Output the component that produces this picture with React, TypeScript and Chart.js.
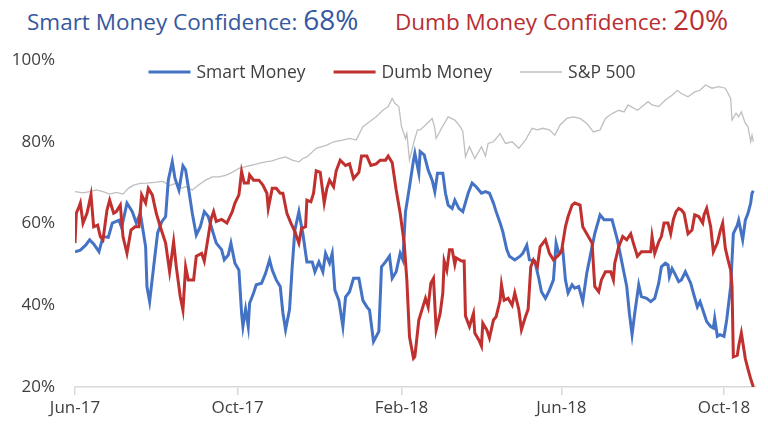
import React, { useEffect, useRef } from "react";
import { Chart, registerables } from "chart.js";

Chart.register(...registerables);

// ---- Data (x = days since 1 Jun 2017) ----
const startDate = "2017-06-01";
const tickDates = ["2017-06-01", "2017-10-01", "2018-02-01", "2018-06-01", "2018-10-01"];
const tickLabels = ["Jun-17", "Oct-17", "Feb-18", "Jun-18", "Oct-18"];
const yTickValues = [20, 40, 60, 80, 100];
const xMaxDays = 511;

const smartDays = [0, 4, 8, 11, 14, 18, 21, 25, 28, 33, 35, 39, 43, 46, 49, 53, 54, 56, 59, 62, 65, 68, 70, 73, 75, 78, 81, 83, 85, 88, 91, 94, 97, 100, 103, 106, 110, 112, 115, 117, 120, 123, 125, 126, 128, 130, 131, 134, 136, 140, 143, 146, 148, 151, 154, 156, 158, 161, 163, 165, 168, 170, 171, 174, 178, 180, 183, 186, 188, 191, 193, 195, 198, 201, 203, 206, 209, 213, 216, 219, 221, 224, 228, 230, 233, 236, 238, 241, 244, 246, 248, 251, 254, 255, 258, 259, 262, 265, 268, 270, 272, 276, 278, 280, 283, 285, 288, 291, 295, 298, 301, 305, 308, 311, 314, 316, 319, 321, 324, 326, 330, 334, 336, 339, 341, 345, 348, 350, 353, 356, 359, 361, 363, 366, 368, 370, 373, 375, 378, 381, 384, 387, 390, 394, 397, 403, 407, 410, 414, 416, 418, 420, 423, 425, 429, 432, 435, 438, 440, 443, 445, 446, 448, 450, 453, 455, 458, 462, 464, 467, 469, 472, 474, 477, 479, 480, 482, 484, 487, 489, 492, 494, 497, 498, 501, 503, 505, 507, 508, 509];
const smartValues = [53.1, 53.5, 54.7, 56, 55, 53.1, 56.8, 56.6, 60.1, 60.8, 59, 65, 62.9, 60.1, 62.5, 54.3, 44.5, 40.9, 49.4, 57.7, 60.4, 61.7, 70.6, 75.1, 71.1, 68.2, 74.1, 73.1, 69, 62.5, 57.2, 59.2, 62.9, 61.7, 58.4, 55.2, 53.6, 51.1, 52.3, 55.2, 50.3, 48.6, 38.1, 34.8, 39, 34.8, 40.5, 43, 45, 45.4, 47.8, 51.1, 48.6, 46.2, 44.6, 38.1, 34, 39, 49.5, 58.4, 62.9, 59.2, 57.5, 50.6, 50.6, 48.2, 50.6, 48.2, 52.7, 50.3, 52.7, 43.7, 41.2, 34.8, 42, 43.3, 46.6, 46.6, 41.2, 39.6, 38.8, 31.1, 33.6, 49.4, 50.6, 52, 46.6, 48.2, 52.7, 51.1, 62.9, 69, 75.5, 77.2, 72.3, 77.6, 76.8, 73.1, 70.6, 67.8, 72.3, 72.3, 67.4, 64.5, 63.7, 65.7, 63.7, 62.9, 67.4, 69.9, 69, 67.4, 67.8, 67.4, 65, 62.9, 60.1, 58, 53.6, 52, 51.1, 52, 52.7, 54.7, 51.1, 50.8, 46.6, 43.3, 41.7, 43.7, 46.2, 55.2, 52.7, 53.6, 46.2, 43, 45, 44.2, 44.6, 40.9, 47.8, 52.7, 57.5, 62.1, 60.9, 60.9, 56, 51.1, 44.6, 38, 32.8, 38, 45, 42.1, 41.7, 40.9, 41.7, 45.4, 49.4, 50.3, 49.9, 47, 49, 47.8, 45.8, 46.2, 48.2, 45.4, 43, 39.6, 40.9, 38, 36, 34.8, 34.4, 36.8, 32.4, 32.8, 32.4, 36.4, 44.6, 57.5, 59.6, 60.8, 56, 60.8, 62.5, 65, 67.4, 68];

const dumbDays = [0, 1, 3, 4, 6, 9, 12, 14, 17, 19, 21, 24, 26, 29, 31, 34, 36, 39, 42, 45, 48, 50, 53, 55, 58, 61, 64, 68, 71, 74, 76, 79, 81, 83, 85, 89, 91, 95, 97, 100, 102, 104, 106, 110, 114, 118, 120, 123, 125, 127, 130, 131, 134, 138, 141, 144, 145, 148, 151, 154, 156, 159, 162, 165, 168, 170, 173, 174, 177, 179, 181, 184, 187, 189, 191, 194, 196, 199, 203, 206, 209, 213, 215, 219, 222, 226, 229, 233, 235, 238, 241, 244, 247, 249, 251, 254, 255, 258, 261, 263, 265, 267, 269, 271, 274, 276, 277, 279, 281, 283, 285, 286, 290, 292, 293, 296, 299, 300, 303, 305, 306, 309, 311, 314, 316, 319, 320, 322, 325, 328, 330, 333, 335, 338, 340, 342, 344, 347, 349, 353, 356, 359, 363, 365, 368, 370, 373, 375, 379, 381, 384, 388, 390, 393, 395, 398, 402, 404, 405, 408, 411, 414, 417, 419, 422, 425, 429, 432, 433, 435, 438, 440, 442, 445, 447, 449, 451, 453, 455, 457, 460, 463, 465, 468, 471, 472, 474, 477, 479, 482, 484, 486, 488, 490, 492, 493, 494, 497, 498, 500, 503, 505, 507, 509];
const dumbValues = [55.2, 62.5, 64.1, 65, 60.1, 62.5, 67, 59.2, 59.6, 56.8, 56, 63.3, 65.7, 62.5, 62.9, 64.5, 56.8, 52.7, 58.4, 59.2, 59.2, 67, 65, 68.6, 67, 62.5, 59.2, 55.2, 48.2, 55.5, 49.4, 42.1, 38.8, 49.4, 46.2, 46.2, 52, 52.7, 50.8, 56.8, 61, 62.9, 60.5, 61, 60.1, 62.9, 65, 67, 72.7, 69.9, 69.9, 71.9, 70.6, 70.6, 69.4, 67.4, 63.7, 68.6, 68.6, 67.4, 67.4, 62.5, 60.1, 58, 55.2, 58.8, 59.2, 65.7, 65.3, 67.4, 72.9, 72.5, 65, 68.6, 70.6, 69, 72.9, 75.5, 74.2, 74.6, 71, 72.5, 76.5, 76.5, 74.2, 74.6, 75.5, 75.5, 76.5, 74.9, 68.2, 62.5, 55.2, 46.2, 32.3, 27, 27.4, 36.4, 39.6, 41.7, 39.6, 45.4, 46.6, 34, 38, 43, 50.8, 48.6, 53.6, 53.6, 50, 51.6, 50.8, 50.8, 37.4, 34.8, 38, 33.2, 31.5, 30, 35.6, 34, 32, 36.4, 37.2, 41.2, 45, 41.2, 41.7, 40, 43, 39, 34, 37.2, 39, 49.4, 51.1, 49.5, 54.3, 56, 52.7, 51.1, 52.3, 53.1, 59.2, 61.7, 64.5, 65, 64.5, 59.2, 57.5, 55.2, 44.6, 43.3, 46.2, 48.2, 48.2, 46.2, 50.3, 54.3, 56.8, 56, 57.5, 55.2, 52, 53.1, 53.1, 53.1, 56.8, 52.7, 55.5, 56.8, 60.1, 60.1, 57.5, 61, 62.9, 63.7, 63.3, 62.5, 57.5, 58.4, 62.1, 61.7, 60.1, 62.1, 63.7, 59.2, 53.1, 55.2, 58, 60.1, 53.9, 51.1, 48.6, 44.6, 27.4, 27.8, 30, 33.2, 26.9, 24.4, 22, 20];

const spxDays = [0, 6, 11, 16, 21, 26, 31, 36, 40, 44, 49, 54, 61, 66, 71, 76, 80, 83, 88, 93, 98, 103, 108, 113, 118, 123, 128, 133, 138, 143, 148, 153, 158, 163, 168, 171, 174, 181, 189, 194, 201, 206, 211, 216, 221, 226, 231, 235, 238, 240, 243, 245, 248, 249, 251, 254, 257, 259, 263, 268, 270, 271, 275, 280, 285, 289, 291, 293, 296, 300, 305, 308, 310, 314, 319, 323, 328, 333, 338, 343, 347, 351, 356, 360, 364, 369, 374, 379, 384, 389, 394, 398, 403, 408, 412, 415, 422, 427, 430, 433, 438, 443, 448, 452, 455, 460, 465, 469, 473, 478, 483, 488, 492, 493, 496, 498, 500, 503, 505, 507, 508, 509];
const spxValues = [67.8, 67.5, 67.8, 68.2, 67.8, 67.2, 67.6, 67.2, 68.6, 69.4, 69.8, 69.9, 70.1, 70.3, 69.3, 69.9, 68.6, 69, 68.2, 69.5, 70.6, 71.4, 71.4, 71.8, 72.5, 73.5, 73.9, 74.3, 74.7, 75.1, 75.3, 75.9, 76.3, 75.5, 75.1, 75.9, 76.3, 78.4, 79.2, 80, 80.4, 80.8, 80.4, 83.7, 84.9, 86.1, 87.7, 88.6, 90.6, 89.4, 88.6, 83.7, 80.8, 82, 75.5, 79.6, 82.9, 82.9, 84.1, 85.7, 83.3, 80.8, 83.3, 86.1, 85.3, 83.7, 82.5, 76.3, 78.8, 75.9, 78.8, 76.5, 79.6, 80, 82, 79.6, 80, 78.4, 80.4, 83.3, 82.9, 83.3, 82.9, 81.6, 84.1, 85.7, 86.1, 85.7, 84.5, 82.4, 82.9, 85.7, 86.9, 87.7, 87.3, 89, 87.7, 89, 89.8, 89, 88.6, 90.2, 91.4, 92.6, 91.8, 91, 92.2, 92.6, 93.9, 93.1, 93.5, 93.1, 90.6, 85.3, 87, 86.1, 87.3, 84.5, 83.7, 80, 81.6, 80];

const seriesLabels = ["Smart Money", "Dumb Money", "S&P 500"];
const seriesColors = ["#4472C4", "#C0302E", "#BFBFBF"];
const titleColors = ["#3558A0", "#B82E33"];

// ---- helpers ----
const dayOf = (s: string) => (Date.parse(s) - Date.parse(startDate)) / 86400000;
const tickDays = tickDates.map(dayOf);
const toPoints = (xs: number[], ys: number[]) => xs.map((x, i) => ({ x, y: ys[i] }));
const FONT = '"Open Sans", "Noto Sans", sans-serif';

const insideLegend = {
  id: "insideLegend",
  afterDatasetsDraw(chart: any) {
    const ctx = chart.ctx as CanvasRenderingContext2D;
    const ds = chart.data.datasets;
    const lineW = 42;
    const gap = 6;
    const spacing = 28;
    ctx.save();
    ctx.font = `17.5px ${FONT}`;
    const widths = ds.map((d: any) => lineW + gap + ctx.measureText(d.label).width);
    const total = widths.reduce((a: number, b: number) => a + b, 0) + spacing * (ds.length - 1);
    let x = 392 - total / 2;
    const y = chart.chartArea.top + 12;
    ds.forEach((d: any, i: number) => {
      ctx.strokeStyle = d.borderColor;
      ctx.lineWidth = d.borderWidth;
      ctx.beginPath();
      ctx.moveTo(x, y);
      ctx.lineTo(x + lineW, y);
      ctx.stroke();
      ctx.fillStyle = "#404040";
      ctx.textBaseline = "middle";
      ctx.textAlign = "left";
      ctx.fillText(d.label, x + lineW + gap, y + 1);
      x += widths[i] + spacing;
    });
    ctx.restore();
  },
};

export default function App() {
  const canvasRef = useRef<HTMLCanvasElement | null>(null);

  useEffect(() => {
    document.body.style.margin = "0";
    const canvas = canvasRef.current;
    if (!canvas) return;
    const chart = new Chart(canvas, {
      type: "line",
      data: {
        datasets: [
          {
            label: seriesLabels[0],
            data: toPoints(smartDays, smartValues),
            borderColor: seriesColors[0],
            borderWidth: 3,
            pointRadius: 0,
            tension: 0,
            order: 1,
          },
          {
            label: seriesLabels[1],
            data: toPoints(dumbDays, dumbValues),
            borderColor: seriesColors[1],
            borderWidth: 3,
            pointRadius: 0,
            tension: 0,
            order: 0,
          },
          {
            label: seriesLabels[2],
            data: toPoints(spxDays, spxValues),
            borderColor: seriesColors[2],
            borderWidth: 1.3,
            pointRadius: 0,
            tension: 0,
            order: 2,
          },
        ],
      },
      options: {
        responsive: false,
        animation: false,
        layout: { padding: { top: 60, right: 12, left: 0, bottom: 0 } },
        plugins: {
          legend: { display: false },
          tooltip: { enabled: false },
          title: { display: false },
        },
        scales: {
          x: {
            type: "linear",
            min: 0,
            max: xMaxDays,
            afterBuildTicks: (s: any) => {
              s.ticks = tickDays.map((v) => ({ value: v }));
            },
            afterFit: (s: any) => {
              s.height = 43;
            },
            ticks: {
              autoSkip: false,
              maxRotation: 0,
              padding: 3,
              color: "#404040",
              font: { family: FONT, size: 17 },
              callback: (_v: any, i: number) => tickLabels[i],
            },
            grid: {
              display: true,
              drawOnChartArea: false,
              drawTicks: true,
              tickLength: 8,
              color: "#D9D9D9",
              lineWidth: 1.5,
            },
            border: { display: true, color: "#D9D9D9", width: 1.5 },
          },
          y: {
            type: "linear",
            min: 20,
            max: 100,
            afterBuildTicks: (s: any) => {
              s.ticks = yTickValues.map((v) => ({ value: v }));
            },
            afterFit: (s: any) => {
              s.width = 75;
            },
            ticks: {
              padding: 20,
              color: "#404040",
              font: { family: FONT, size: 17 },
              callback: (v: any) => `${v}%`,
            },
            grid: { display: false, drawTicks: false },
            border: { display: false },
          },
        },
      },
      plugins: [insideLegend],
    });
    return () => chart.destroy();
  }, []);

  const smartLast = Math.round(smartValues[smartValues.length - 1]);
  const dumbLast = Math.round(dumbValues[dumbValues.length - 1]);

  return (
    <div style={{ position: "relative", width: 768, height: 430, background: "#fff", fontFamily: FONT }}>
      <div
        style={{
          position: "absolute",
          left: 27,
          top: 0,
          height: 34,
          display: "flex",
          alignItems: "baseline",
          color: titleColors[0],
          whiteSpace: "nowrap",
        }}
      >
        <span style={{ fontSize: 22.5 }}>Smart Money Confidence:&nbsp;</span>
        <span style={{ fontSize: 28 }}>{smartLast}%</span>
      </div>
      <div
        style={{
          position: "absolute",
          left: 395,
          top: 0,
          height: 34,
          display: "flex",
          alignItems: "baseline",
          color: titleColors[1],
          whiteSpace: "nowrap",
        }}
      >
        <span style={{ fontSize: 22.5 }}>Dumb Money Confidence:&nbsp;</span>
        <span style={{ fontSize: 28 }}>{dumbLast}%</span>
      </div>
      <canvas ref={canvasRef} width={768} height={430} style={{ position: "absolute", left: 0, top: 0 }} />
    </div>
  );
}
